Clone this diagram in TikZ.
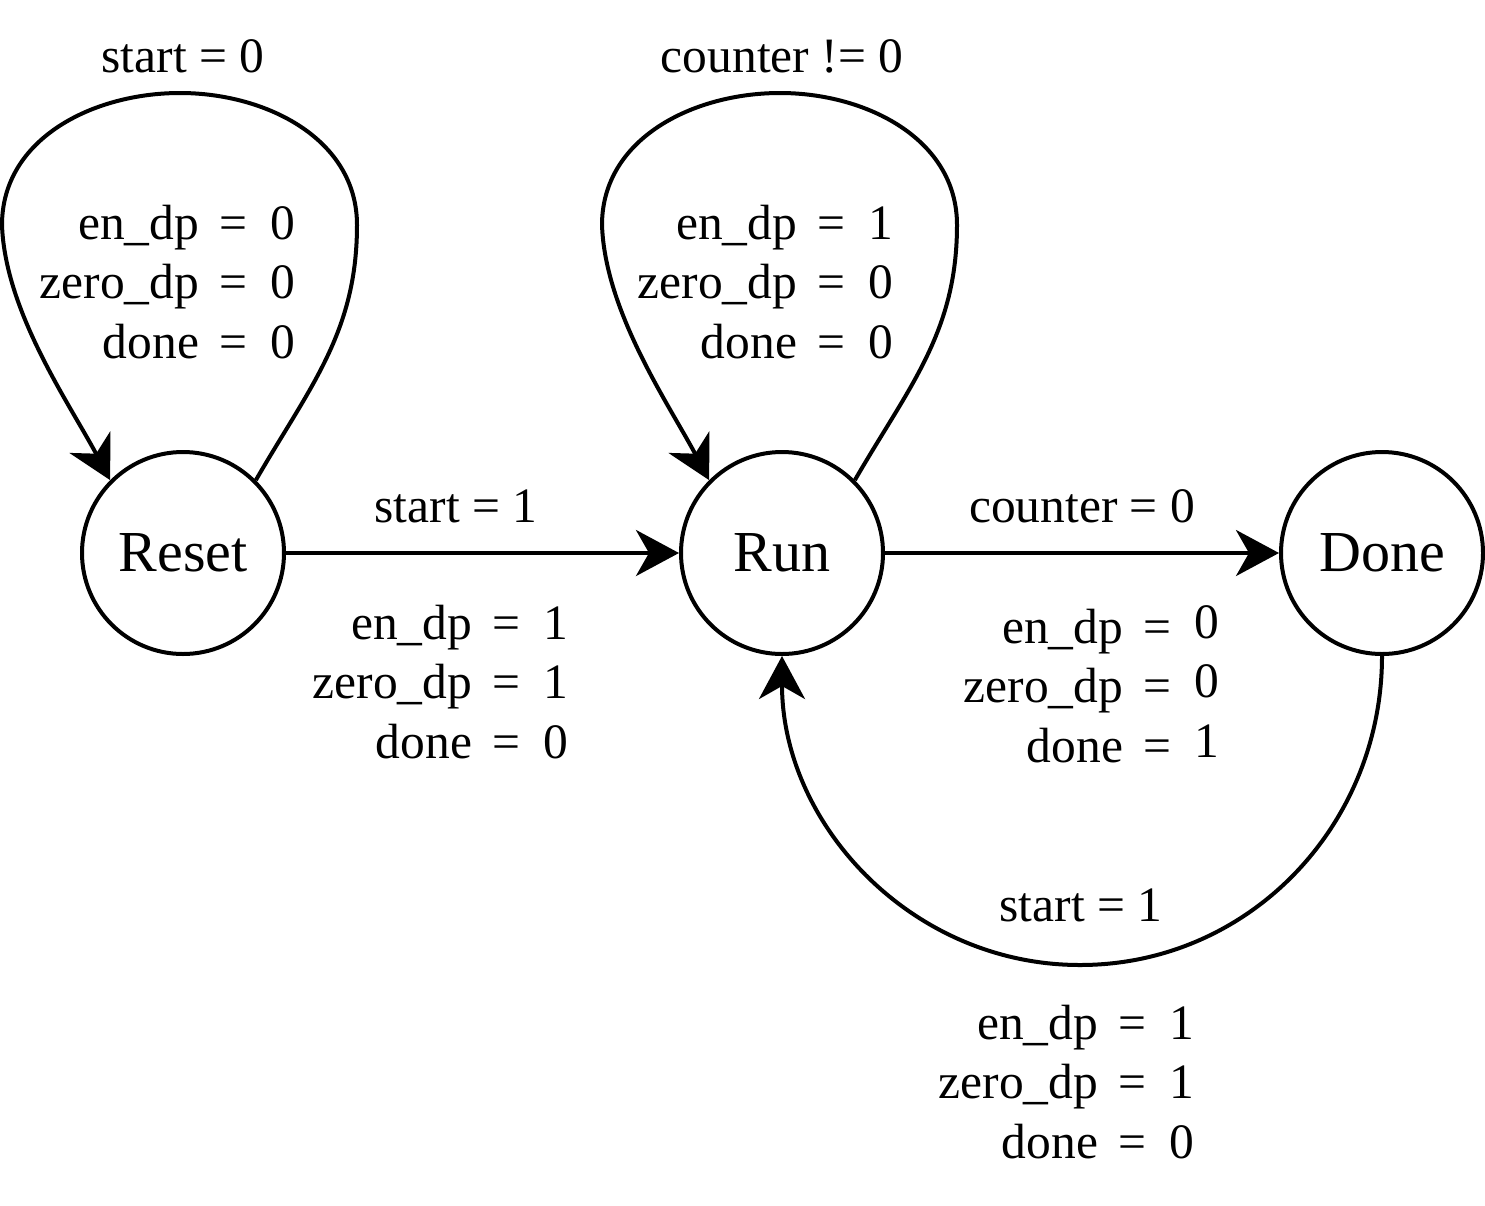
\documentclass[tikz,border=0pt]{standalone}
\usepackage{fontspec}
\setmainfont{Liberation Serif}
\usetikzlibrary{arrows.meta}
\newcommand{\vtab}[3]{\begin{tabular}[t]{@{}r@{\hspace{20pt}}c@{\hspace{23pt}}l@{}}en\_dp & = & #1\\ zero\_dp & = & #2\\ done & = & #3\end{tabular}}
\begin{document}
\begin{tikzpicture}[x=1pt,y=-1pt,
  state/.style={draw,circle,line width=4pt,minimum size=202pt,inner sep=0pt,font=\fontsize{58}{70}\selectfont},
  edge/.style={line width=4pt,-{Stealth[length=43pt,width=46pt,inset=13pt]}},
  lbl/.style={anchor=base,inner sep=0pt,font=\fontsize{49.5}{59.5}\selectfont},
  tbl/.style={anchor=base east,inner sep=0pt,font=\fontsize{49.5}{59.5}\selectfont}]
\useasboundingbox (0,0) rectangle (1485,1205);
\node[state] (reset) at (183,553) {Reset};
\node[state] (run) at (782,553) {Run};
\node[state] (done) at (1382,553) {Done};

\coordinate (r1) at (357,225);
\coordinate (r2) at (180,93);
\coordinate (r3) at (2,225);
\coordinate (u1) at (957,225);
\coordinate (u2) at (780,93);
\coordinate (u3) at (602,225);
\coordinate (b1) at (1080,965);

\draw[edge] (reset.45) to[out=60,in=-90] (r1) to[out=90,in=0] (r2) to[out=180,in=90] (r3) to[out=-88,in=118,looseness=0.8] (reset.135);
\draw[edge] (run.45) to[out=60,in=-90] (u1) to[out=90,in=0] (u2) to[out=180,in=90] (u3) to[out=-88,in=118,looseness=0.8] (run.135);
\draw[edge] (reset) -- (run);
\draw[edge] (run) -- (done);
\draw[edge] (done.south) to[out=-90,in=0] (b1) to[out=180,in=-90] (run.south);

\node[lbl] (l1) at (183,72) {start = 0};
\node[lbl] (l2) at (782,72) {counter != 0};
\node[lbl] (l3) at (456,522) {start = 1};
\node[lbl] (l4) at (1082,522) {counter = 0};
\node[lbl] (l5) at (1081,921) {start = 1};

\node[tbl] (t1) at (295,239) {\vtab{0}{0}{0}};
\node[tbl] (t2) at (568,639) {\vtab{1}{1}{0}};
\node[tbl] (t3) at (893,239) {\vtab{1}{0}{0}};
\node[tbl] (t4) at (1219,643) {\vtab{\raisebox{5pt}{0}}{\raisebox{5pt}{0}}{\raisebox{5pt}{1}}};
\node[tbl] (t5) at (1194,1039) {\vtab{1}{1}{0}};
\end{tikzpicture}
\end{document}
